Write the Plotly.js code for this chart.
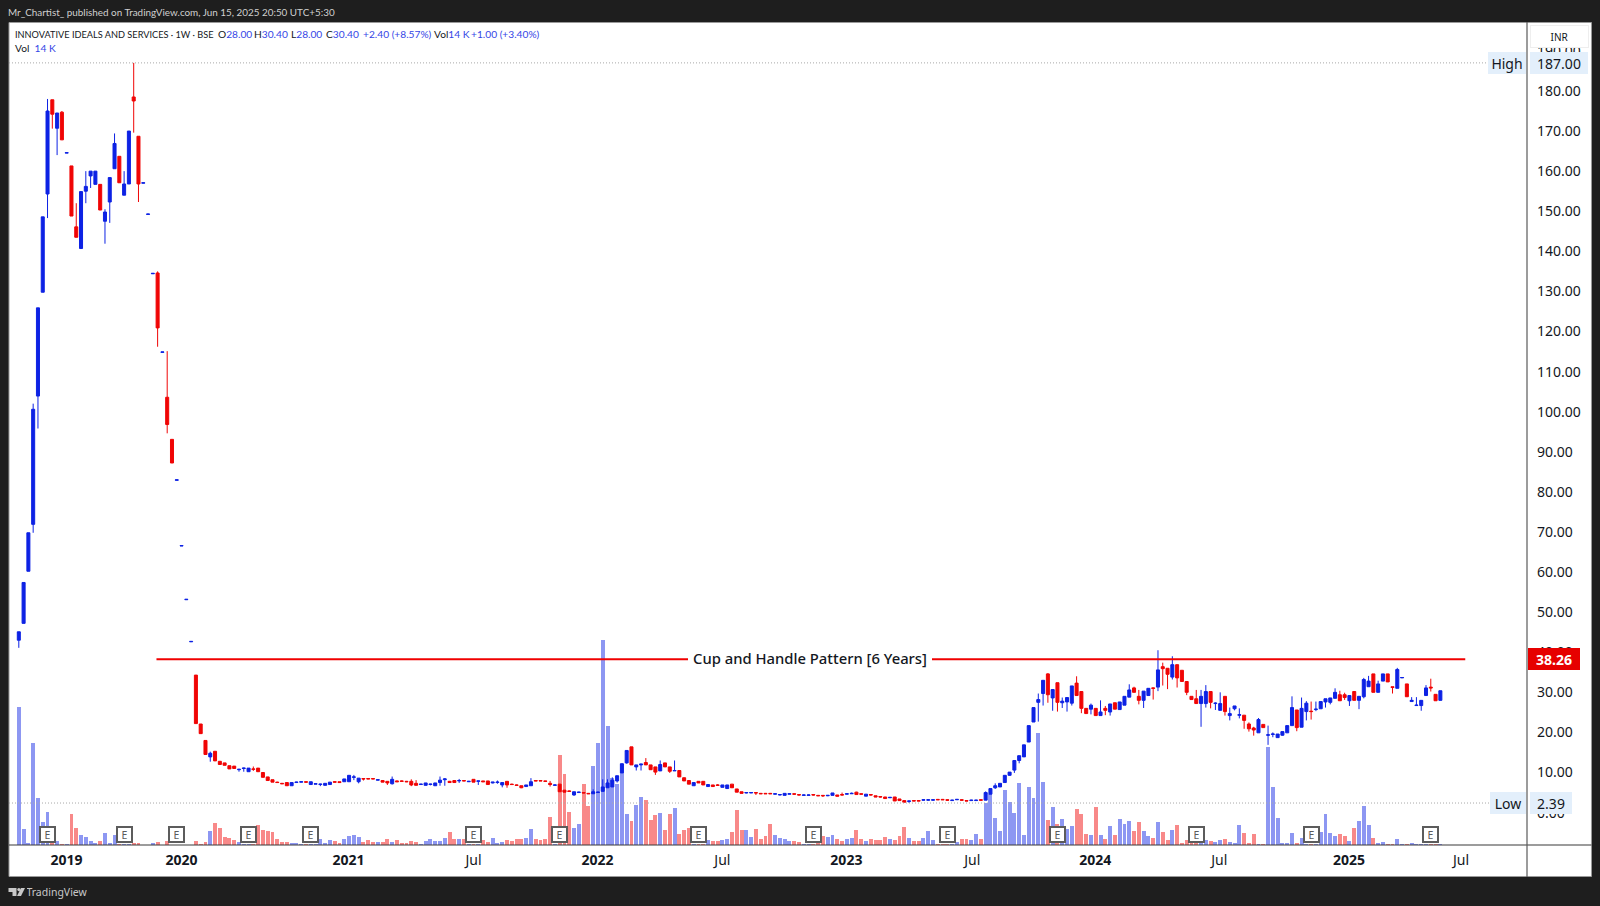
<!DOCTYPE html>
<html><head><meta charset="utf-8">
<script src="https://cdn.plot.ly/plotly-3.0.1.min.js"></script>
<style>html,body{margin:0;padding:0;background:#1e1e1e;overflow:hidden}</style>
</head><body><div id="chart" style="width:1600px;height:906px"></div>
<script>
const opens = [43,47.2,60.2,71.9,103.9,129.8,154.3,177.8,170.7,174.7,
164.5,161.3,146.1,140.7,155,158.8,156.7,156.7,147.5,152.3,
160.6,163.7,154,156.8,178.5,168.7,157,149.2,134.4,134.6,
114.8,103.6,93.1,82.9,66.5,53.1,42.6,34.3,22.1,18,
13.9,15.3,12.8,12.4,11.7,11.6,10.7,11,10.2,10.9,
11.1,10,8.9,8.2,7.6,7.3,7.5,6.7,7.5,7.6,
7.7,7,7.1,7,6.8,7,7.7,7.7,7.7,7.7,
8.8,7.7,8.5,8.5,8.5,8.1,8,7.8,7.2,7.9,
7.9,7.8,7.8,7.3,7,6.8,7,6.7,7.5,8.2,7.8,
8,7.9,8,7.7,8.3,7.8,7.9,7.9,7.4,7.5,
6.9,7.8,7.1,6.9,6.7,6.5,6.7,8,8,7.9,
7.3,6.8,7.1,5.6,5.4,4.4,5,5,4.8,4.7,
5,5.3,6.2,6.4,7.9,9.9,12.4,16.4,11.4,11.9,
12.5,11.9,11.4,10.4,12.4,11.4,10.4,10.5,8.7,8,
6.7,7.8,7.8,6.5,6.9,6.9,6.3,6,7.1,5.9,
5.2,4.9,4.9,5,4.8,4.8,4.8,4.6,4.4,4.3,
4.6,4.7,4.5,4.3,4.3,4.5,4.3,4.3,4.2,4.3,
4.4,4.5,4.6,4.7,5.1,4.7,4.1,4.5,4.2,4,
3.9,3.7,3.9,3.4,3,2.8,3,3,3.1,3.1,
3.1,3.3,3.3,3.2,3,3.2,3.2,3,3,3,
3.2,3.1,4.6,6.2,6.4,7.5,9.3,10.6,13,13.9,
17.6,22.6,27.5,29.7,34.6,28.6,32.4,27.4,27.6,27.3,
32.3,30.2,26,25.8,26,24.2,26,25.1,27.4,25.7,
26.8,28.8,31.1,29,28,29.2,31.1,31.3,36.4,36,
33.8,36.9,35.5,32.7,29,28.4,27.2,27.2,30.2,27.2,
25.5,29,24.2,25.9,24.3,24.3,22.1,21.1,19.9,22,
19.3,19.5,18.7,19.3,19.9,21.7,25.6,21.3,25.2,25.3,
25.7,25.9,27.6,27.5,28.5,29.4,29.4,27.9,30.2,28,
28.9,31.4,34.6,30,32.8,34.6,31.4,31,33.6,32.1,
27.7,26.7,26.7,29.2,31.3,29.5,28];
const highs = [45.1,57.4,69.8,102,125.9,148.6,178,177.8,174.5,175,
164.7,161.3,152,154.9,160,160,160,156.7,150.5,158.4,
169.4,163.7,160,170,187,168.7,157.1,149.3,134.5,135,
114.9,115.1,93.1,83,66.6,53.2,42.7,34.3,22.1,18,
15.2,15.3,12.8,12.4,11.7,11.6,10.9,11.2,11.1,11.5,
11.1,10,8.9,8.2,7.7,7.4,7.5,7.5,7.7,7.8,
7.7,7.7,7.3,7.2,7.3,7.6,7.8,7.7,8.4,9.3,
9.4,8.6,8.5,8.6,8.6,8.3,8,7.8,9,8,
8,7.9,8.3,8.1,7.1,7.4,7.2,7.4,9,8.6,7.9,
8,8.4,8,7.9,8.3,7.9,7.9,7.9,7.6,8,
7.5,7.8,7.2,7,6.7,6.9,8.6,8.1,8.1,7.9,
7.9,7,7.1,5.6,5.5,5.2,5.2,5,4.9,5.8,
5.2,8.3,8.3,8.8,9.2,12.2,15.5,16.4,11.9,12.1,
13.6,11.9,11.4,13,12.4,11.4,13,10.5,8.7,8,
7.5,7.8,7.8,7,6.9,7.1,6.9,6.9,7.1,5.9,
5.2,5,5,5,4.9,4.9,4.9,4.7,4.6,4.8,
4.7,4.7,4.5,4.5,4.5,4.5,4.4,4.3,4.4,4.9,
4.4,5,4.8,5,5.2,4.7,4.6,4.5,4.2,4,
3.9,3.8,3.9,3.4,3,2.9,3.1,3.1,3.3,3.3,
3.3,3.4,3.4,3.3,3.2,3.3,3.3,3,3.2,3.2,
3.3,5.3,6,7.3,7.3,9.3,10.1,13,14.2,16.9,
21.7,26.2,29.7,33,34.8,30.7,32.4,28.7,28.7,31.6,
34,30.2,26,27.2,26,28,26.6,27.1,27.4,27.6,
29,32,31.4,30.6,30.3,31,31.2,40.5,37.4,36,
39,36.9,35.5,32.7,29,30.6,30.6,31.8,30.2,27.5,
30,29,26.2,26.6,26,24.3,22.5,21.4,23.6,22,
21.7,20,19.6,20.2,21.7,29,25.6,28.7,27.8,27.7,
27.7,27.7,28.4,28.6,31,30.4,29.9,29.2,30.2,29,
33.6,34.1,34.6,32.9,34.6,34.6,31.4,36.1,33.8,32.1,
28.8,28.8,28,31.8,33.4,29.5,30.4];
const lows = [41.1,47.2,60.2,69.8,95.8,129.8,148.3,170.6,164,167.8,
164.5,148.8,143.5,140.7,152,155.8,156.7,150.3,141.9,147.1,
160.6,157.1,154,156.8,169.6,152.3,157,149.2,134.4,116.2,
114.8,94.6,87.2,82.9,66.5,53.1,42.6,22.2,19.7,14.5,
12.7,12.9,12,11.8,10.9,11,10.2,10.2,10.2,10.4,
10.2,8.8,8,7.6,7.5,7.2,6.7,6.7,7.5,7.6,
7.5,7,7.1,6.6,6.8,7,7.6,7.4,7.7,7.7,
8.1,7.3,8,8.4,8.4,8.1,7.6,6.9,7,7.7,
7.7,7.6,6.6,6.8,6.9,6.8,6.8,6.7,6.7,6.7,7.5,
7.5,7.4,7.9,7.7,7.6,6.9,7.7,7,7.3,7.2,
6.3,6.2,7,6.8,6.1,6.5,6.7,7.9,7.9,7.7,
6.5,6.8,5.2,5.1,5.3,4.2,5,4.9,4.7,4.7,
4.9,5.3,6.2,6.4,7.5,9.9,12.2,11.9,10.5,10.5,
11.9,10.7,9.4,10.4,11.4,9.9,10.4,8.9,7.9,7.1,
6.7,7.4,6.9,6.5,6.5,6.7,6.3,6,6.2,5.1,
4.8,4.8,4.9,4.4,4.7,4.7,4.7,4.6,4.3,4.3,
4.6,4.5,4.3,4.3,4.3,4.3,4.2,3.9,4.1,4.3,
4.1,4.3,4.6,4.7,4.5,4.6,4.1,4.3,3.9,3.8,
3.5,3.7,2.9,3,2.6,2.39,2.9,2.9,3,3,
3,3.2,3.2,3,3,3.2,3,2.9,3,3,
3,3.1,4.6,5.9,6.4,7.5,9.2,9.9,12.3,13.9,
17.6,22.6,22.7,26.7,27.4,25.4,25.2,26.1,25.2,26.7,
29.2,24.8,24.7,24.5,24.2,24.2,24.3,24.2,25.8,25.7,
26.8,28.8,30,27,26.1,29.2,28.2,30.3,31.7,30.8,
33.2,31.2,32.7,29.3,28.2,27.2,21.4,26.2,26,25.6,
25.5,24.2,23,25.5,23.5,20.9,20.2,19.2,19.9,21.2,
16.9,18.8,18.7,19.2,19.9,21.7,20.3,21.3,23,23.2,
25.3,25.9,26.2,27,28.5,27.9,28.1,26.6,28,25.8,
28.5,31.4,30,30,32.8,32.6,29.7,31,33.6,28.9,
27.7,26.7,25.4,29.2,30.2,27.9,28];
const closes = [45.1,57.4,69.8,100.6,125.9,148.6,175,174.2,174.5,167.8,
164.6,148.8,143.5,154.9,156.2,160,160,150.3,149.8,158.4,
166.9,157.1,156.8,170,177.5,156.8,157.1,149.3,134.5,120.9,
114.9,96.8,87.2,83,66.6,53.2,42.7,22.2,19.7,14.5,
14.8,12.9,12,11.8,10.9,11,10.8,11.1,11.1,10.8,
10.2,8.8,8,7.6,7.5,7.2,6.7,7.5,7.6,7.7,
7.6,7.7,7.2,7.1,7.3,7.6,7.6,7.5,8.4,9.3,
8.9,8.6,8.4,8.4,8.4,8.2,7.6,7.4,8.3,7.7,
7.8,7.7,6.9,6.8,7.1,7.4,7.1,7.4,8.1,8.4,7.5,
7.5,8,7.9,7.8,7.6,7.9,7.7,7,7.6,7.6,
7.5,6.9,7,6.8,6.2,6.9,7.7,7.9,7.9,7.8,
7,6.9,5.2,5.1,5.3,5.2,5.1,4.9,4.7,5.2,
5.1,6.4,7.4,8.1,9.2,12.2,15.5,11.9,11.9,12.1,
11.9,10.7,10.1,12,11.4,10.3,10.5,8.9,7.9,7.1,
7.5,7.4,6.9,7,6.5,6.8,6.9,6.9,6.2,5.1,
4.8,5,5,4.9,4.7,4.7,4.7,4.7,4.5,4.8,
4.7,4.6,4.4,4.4,4.4,4.4,4.2,4.2,4.3,4.9,
4.1,4.4,4.7,4.8,4.5,4.6,4.6,4.4,3.9,3.9,
3.5,3.8,2.9,3,2.6,2.9,2.9,2.9,3.2,3.2,
3.2,3.2,3.2,3.1,3.1,3.3,3.1,2.9,3.1,3.1,
3.1,5,6,6.7,7.3,9.3,10.1,13,14.2,16.9,
21.7,26.2,28.2,33,29.4,30.7,27.5,27.8,28.7,31.6,
29.2,26,24.7,26.8,24.2,25.1,25.5,27.1,25.8,27.6,
29,30.6,30,28,30.3,31,31,35.6,35.9,34.5,
36.9,33.6,32.7,30,28.2,27.2,29,30.2,27.5,27.3,
27.2,25.2,24.7,26.6,24.4,23,20.9,20.6,23.2,21.2,
19.4,19.6,19.6,20.2,21.7,26.2,21.2,26,27.3,25.2,
25.8,27.7,28.4,28.6,30,27.9,28.7,29.2,28,29,
33.2,32.8,30,32.1,34.6,32.6,31.2,35.7,33.7,28.9,
28,26.8,28,31.1,31.1,27.9,30.4];
const volumesK = [1380,160,20,1020,470,230,330,50,40,15,
10,310,170,100,80,40,25,40,120,25,
100,15,15,15,25,20,5,5,20,30,
3,40,5,3,3,3,3,40,13,30,
137,220,170,80,70,47,30,13,13,13,
203,153,137,130,63,30,30,20,20,13,
13,13,13,60,20,53,40,20,60,93,
103,80,30,47,30,30,30,57,30,47,
20,20,40,33,13,40,57,40,40,73,130,
57,57,57,13,13,13,47,33,70,20,
27,47,37,57,63,73,160,57,50,57,
277,13,897,707,327,170,210,607,390,787,
1020,2050,1190,667,607,807,310,243,400,483,
450,253,300,320,147,310,370,113,147,170,
13,13,13,47,40,40,47,57,130,350,
147,147,80,157,57,87,210,97,73,60,
40,40,30,13,13,13,90,90,85,97,
60,40,60,70,147,60,40,60,53,53,
80,60,53,90,180,70,40,40,70,137,
53,13,13,13,13,30,60,60,50,107,
60,420,513,270,137,550,427,320,623,97,
577,467,1117,630,250,383,213,263,160,187,
360,310,113,103,377,103,60,187,103,260,
213,237,137,227,137,87,70,227,130,53,
153,203,23,53,107,53,107,47,40,30,
53,57,30,20,197,120,20,113,13,13,
980,583,270,20,20,120,20,70,13,13,
13,130,310,120,90,110,90,40,170,243,
387,203,70,20,30,7,7,57,7,7,
20,7,13,13,13,13,14];
const barIndex = opens.map((_, i) => i);
const priceTicks = [0,10,20,30,40,50,60,70,80,90,100,110,120,130,140,150,160,170,180,190];
const dateTickBars = [9.96,33.98,68.9,95,120.9,147,172.9,199.2,224.9,250.8,277.9,301.3];
const dateTickText = ['<b>2019</b>','<b>2020</b>','<b>2021</b>','Jul','<b>2022</b>','Jul','<b>2023</b>','Jul','<b>2024</b>','Jul','<b>2025</b>','Jul'];
const earningsBars = [6,22,33,48,61,95,113,142,166,194,217,246,270,295];
const allTimeHigh = 187, allTimeLow = 2.39, patternLevel = 38.26;
const patternBars = [28.76,302.2];

const BLUE='#0d22e4', RED='#f00505', BLUE_V='rgba(13,34,228,0.47)', RED_V='rgba(240,5,5,0.47)';
const FONT='"Noto Sans", "Liberation Sans", sans-serif';
const HEAD='Lato, "Noto Sans", sans-serif';
const PL=8.5, PR=1527, PT=22, PB=845;
const fx=p=>(p-PL)/(PR-PL), fy=p=>(PB-p)/(PB-PT);
const pathPx=s=>s.replace(/(-?[\d.]+),(-?[\d.]+)/g,(m,a,b)=>fx(+a)+','+fy(+b));

const traces=[
 {type:'bar',x:barIndex,y:volumesK,yaxis:'y',xaxis:'x',width:0.82,
  marker:{color:opens.map((o,i)=>closes[i]>=o?BLUE_V:RED_V),line:{width:0}},hoverinfo:'skip'},
 {type:'candlestick',x:barIndex,open:opens,high:highs,low:lows,close:closes,yaxis:'y2',xaxis:'x',
  increasing:{line:{color:BLUE,width:1},fillcolor:BLUE},
  decreasing:{line:{color:RED,width:1},fillcolor:RED},whiskerwidth:0,hoverinfo:'skip'},
 {type:'scatter',mode:'lines',x:patternBars,y:[patternLevel,patternLevel],yaxis:'y2',xaxis:'x',
  line:{color:'#f00000',width:2},hoverinfo:'skip'}
];

const box=(px,py,w,h,text,o={})=>Object.assign({xref:'paper',yref:'paper',x:fx(px),y:fy(py),xanchor:'center',yanchor:'middle',
  width:w,height:h,text,showarrow:false,align:'center',borderpad:0,borderwidth:0,
  font:{family:FONT,size:14,color:'#131722'}},o);
const txt=(px,py,text,font)=>({xref:'paper',yref:'paper',x:fx(px),y:fy(py),xanchor:'left',yanchor:'middle',showarrow:false,align:'left',borderpad:0,text,font});
const headFont={family:HEAD,size:10.2,color:'#131722'};
const titleFont={family:HEAD,size:9.2,color:'#131722'};
const hb=s=>'<span style="color:#3446e6">'+s+'</span>';

const ann=[
 txt(6,12,'Mr_Chartist_ published on TradingView.com, Jun 15, 2025 20:50 UTC+5:30',{family:HEAD,size:9.9,color:'#d0d0d0'}),
 txt(14,34,'INNOVATIVE IDEALS AND SERVICES · 1W · BSE',titleFont),
 txt(217,34,'O'+hb('28.00'),headFont),
 txt(253,34,'H'+hb('30.40'),headFont),
 txt(290,34,'L'+hb('28.00'),headFont),
 txt(325,34,'C'+hb('30.40'),headFont),
 txt(362,34,hb('+2.40 (+8.57%)'),headFont),
 txt(433,34,'Vol'+hb('14 K'),headFont),
 txt(470,34,hb('+1.00 (+3.40%)'),headFont),
 txt(14,48,'Vol  '+hb('14 K'),headFont),
 box(1559.5,36.5,57,21,'INR',{bgcolor:'#ffffff',bordercolor:'#eeeeee',borderwidth:1,font:{family:FONT,size:10,color:'#131722'}}),
 box(1507,0,38,22,'High',{yref:'y2',y:allTimeHigh,bgcolor:'#e3effb'}),
 box(1559,0,58,22,allTimeHigh.toFixed(2),{yref:'y2',y:allTimeHigh,bgcolor:'#e3effb'}),
 box(1508,0,36,22,'Low',{yref:'y2',y:allTimeLow,bgcolor:'#e3effb'}),
 box(1551,0,42,22,allTimeLow.toFixed(2),{yref:'y2',y:allTimeLow,bgcolor:'#e3effb'}),
 box(1554,0,52,22,'<b>'+patternLevel.toFixed(2)+'</b>',{yref:'y2',y:patternLevel,bgcolor:'#e60000',font:{family:FONT,size:14,color:'#ffffff'}}),
 box(810,0,244,22,'Cup and Handle Pattern [6 Years]',{yref:'y2',y:patternLevel,yshift:1.5,bgcolor:'#ffffff',font:{family:FONT,size:14.8,color:'#131722',weight:500}}),
 box(57,892,60,14,'TradingView',{font:{family:FONT,size:10.5,color:'#c8c8c8'}}),
 ...earningsBars.map(b=>({xref:'x',yref:'paper',x:b,y:fy(834),xanchor:'center',yanchor:'middle',text:'E',showarrow:false,
   width:12,height:12,borderpad:0.5,bgcolor:'#ffffff',bordercolor:'#5c5c5c',borderwidth:2,font:{family:FONT,size:10.5,color:'#5c5c5c'}}))
];

const rectPx=(x0,y0,x1,y1,fill,line)=>({type:'rect',xref:'paper',yref:'paper',x0:fx(x0),x1:fx(x1),y0:fy(y0),y1:fy(y1),
  fillcolor:fill,line:line?{color:line,width:1}:{width:0},layer:'below'});
const shapes=[
 rectPx(8.5,22.5,1591.5,876.5,'#ffffff','#9a9a9a'),
 {type:'line',xref:'paper',yref:'paper',x0:fx(8.5),x1:fx(1591.5),y0:fy(845),y1:fy(845),line:{color:'#3a3a3a',width:1.2},layer:'above'},
 {type:'line',xref:'paper',yref:'paper',x0:fx(1527),x1:fx(1527),y0:fy(22),y1:fy(877),line:{color:'#5a5a5a',width:1.2},layer:'above'},
 {type:'line',xref:'paper',yref:'y2',x0:0,x1:fx(1488),y0:allTimeHigh,y1:allTimeHigh,line:{color:'#a8a8a8',width:1,dash:'1px,2px'},layer:'above'},
 {type:'line',xref:'paper',yref:'y2',x0:0,x1:fx(1490),y0:allTimeLow,y1:allTimeLow,line:{color:'#a8a8a8',width:1,dash:'1px,2px'},layer:'above'},
 {type:'path',xref:'paper',yref:'paper',fillcolor:'#c8c8c8',line:{width:0},
  path:pathPx('M 8,888 L 16,888 L 16,896 L 12,896 L 12,892 L 8,892 Z')},
 {type:'path',xref:'paper',yref:'paper',fillcolor:'#c8c8c8',line:{width:0},
  path:pathPx('M 20.5,888 L 24.5,888 L 20.5,896 L 16.5,896 Z')},
 {type:'circle',xref:'paper',yref:'paper',fillcolor:'#c8c8c8',line:{width:0},x0:fx(16.8),x1:fx(20),y0:fy(888),y1:fy(891.2)}
];

const layout={
 width:1600,height:906,autosize:false,showlegend:false,
 paper_bgcolor:'#1e1e1e',plot_bgcolor:'rgba(0,0,0,0)',
 margin:{l:PL,r:1600-PR,t:PT,b:906-PB,pad:0},
 boxgap:0.1,bargap:0,
 xaxis:{type:'linear',range:[-2.05,315.1],rangeslider:{visible:false},showgrid:false,zeroline:false,showline:false,
   tickmode:'array',tickvals:dateTickBars,ticktext:dateTickText,ticks:'',ticklabelstandoff:5,
   tickfont:{family:FONT,size:14,color:'#131722'}},
 yaxis:{range:[0,8230],visible:false,fixedrange:true},
 yaxis2:{overlaying:'y',side:'right',range:[-8.08,197.2],showgrid:false,zeroline:false,showline:false,
   tickmode:'array',tickvals:priceTicks,tickformat:'.2f',ticks:'',ticklabelstandoff:9,
   tickfont:{family:FONT,size:14,color:'#131722'}},
 annotations:ann,shapes
};
Plotly.newPlot('chart',traces,layout,{staticPlot:true,displayModeBar:false});
</script></body></html>
